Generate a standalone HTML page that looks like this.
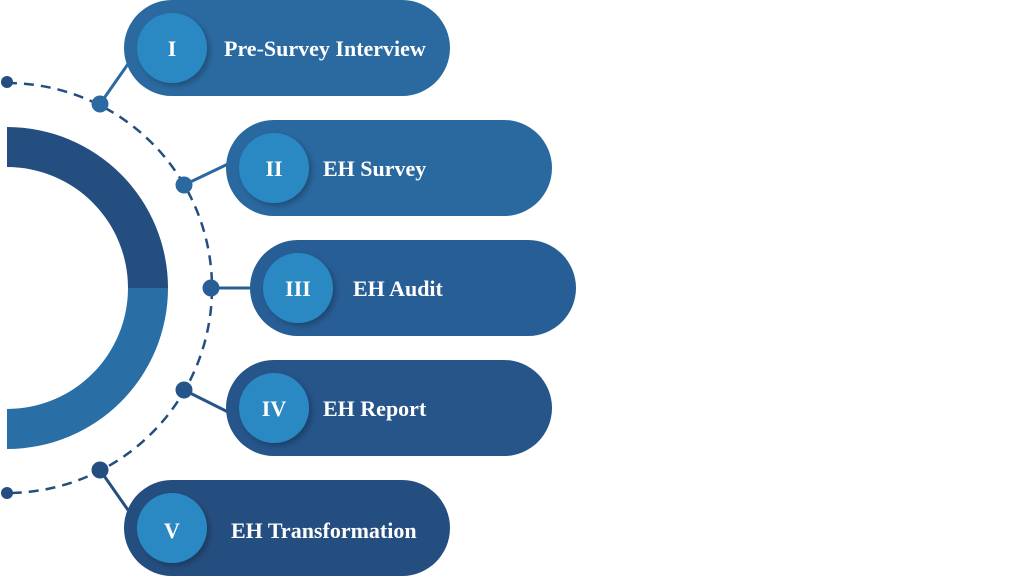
<!DOCTYPE html>
<html><head><style>
html,body{margin:0;padding:0;background:#fff;}
</style></head><body>
<svg width="1024" height="576" viewBox="0 0 1024 576" xmlns="http://www.w3.org/2000/svg">
<defs>
<filter id="sh" x="-50%" y="-50%" width="200%" height="200%"><feDropShadow dx="3" dy="3" stdDeviation="3" flood-color="#000" flood-opacity="0.25"/></filter>
</defs>
<path d="M7 127 A161 161 0 0 1 168 288 L128 288 A121 121 0 0 0 7 167 Z" fill="#254e80"/>
<path d="M168 288 A161 161 0 0 1 7 449 L7 409 A121 121 0 0 0 128 288 Z" fill="#2a6ea6"/>
<path d="M7 83 A205 205 0 0 1 7 493" fill="none" stroke="#254e80" stroke-width="2.5" stroke-dasharray="10 7"/>
<g stroke-width="3">
<line x1="100" y1="104" x2="128" y2="64" stroke="#2a6aa0"/>
<line x1="184" y1="185" x2="228" y2="164" stroke="#2a68a0"/>
<line x1="211" y1="288" x2="252" y2="288" stroke="#285e96"/>
<line x1="184" y1="390" x2="228" y2="412" stroke="#26558a"/>
<line x1="100" y1="470" x2="128" y2="510" stroke="#254e80"/>
</g>
<g>
<circle cx="7" cy="82" r="6" fill="#254e80"/>
<circle cx="7" cy="493" r="6" fill="#254e80"/>
<circle cx="100" cy="104" r="8.5" fill="#2a6aa0"/>
<circle cx="184" cy="185" r="8.5" fill="#2a68a0"/>
<circle cx="211" cy="288" r="8.5" fill="#285e96"/>
<circle cx="184" cy="390" r="8.5" fill="#26558a"/>
<circle cx="100" cy="470" r="8.5" fill="#254e80"/>
</g>
<rect x="124" y="0" width="326" height="96" rx="48" fill="#2a6aa0"/>
<rect x="226" y="120" width="326" height="96" rx="48" fill="#2a68a0"/>
<rect x="250" y="240" width="326" height="96" rx="48" fill="#285e96"/>
<rect x="226" y="360" width="326" height="96" rx="48" fill="#26558a"/>
<rect x="124" y="480" width="326" height="96" rx="48" fill="#254e80"/>
<g fill="#2a88c2" filter="url(#sh)">
<circle cx="172" cy="48" r="35"/>
<circle cx="274" cy="168" r="35"/>
<circle cx="298" cy="288" r="35"/>
<circle cx="274" cy="408" r="35"/>
<circle cx="172" cy="528" r="35"/>
</g>
<g fill="#fff" font-family="Liberation Serif, serif" font-size="22" font-weight="bold">
<g text-anchor="middle">
<text x="172" y="56">I</text>
<text x="274" y="176">II</text>
<text x="298" y="296">III</text>
<text x="274" y="416">IV</text>
<text x="172" y="538">V</text>
</g>
<text x="224" y="56">Pre-Survey Interview</text>
<text x="323" y="176">EH Survey</text>
<text x="353" y="296">EH Audit</text>
<text x="323" y="416">EH Report</text>
<text x="231" y="538">EH Transformation</text>
</g>
</svg>
</body></html>
